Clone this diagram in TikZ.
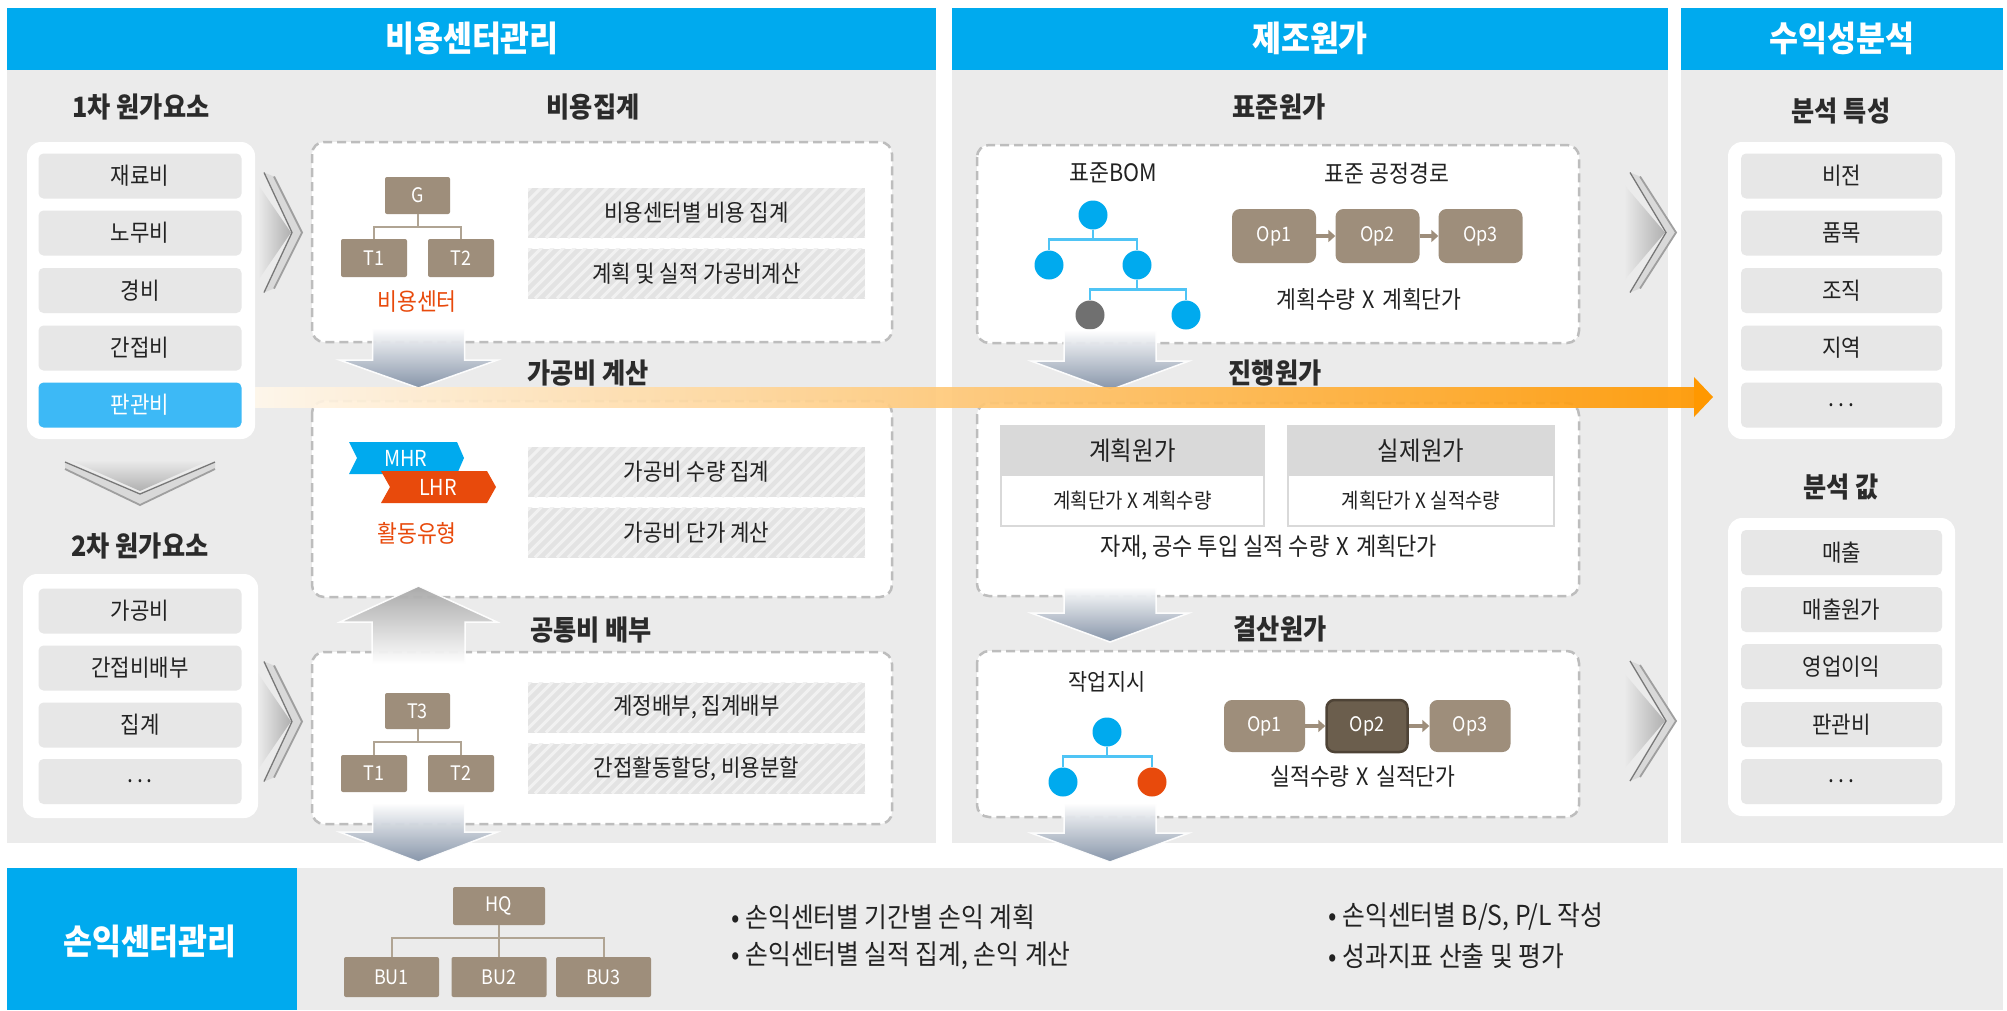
\documentclass[tikz,border=0pt]{standalone}
\usepackage{fontspec}
\setmainfont{Noto Sans CJK KR}[FakeStretch=0.9]
\usetikzlibrary{arrows.meta,calc}
\definecolor{hdrblue}{HTML}{00AAEE}
\definecolor{panelgray}{HTML}{EBEBEB}
\definecolor{itemgray}{HTML}{E7E7E7}
\definecolor{selblue}{HTML}{3DB9F6}
\definecolor{brownbox}{HTML}{9E8E7B}
\definecolor{darkop}{HTML}{6B5E4D}
\definecolor{darkopb}{HTML}{4E4336}
\definecolor{redorange}{HTML}{E84A0C}
\definecolor{dashgray}{HTML}{BDBDBD}
\definecolor{txt}{HTML}{222222}
\definecolor{headc}{HTML}{2B2B2B}
\definecolor{hatchbase}{HTML}{E3E3E3}
\definecolor{hatchline}{HTML}{F1F1F1}
\definecolor{slate}{HTML}{8190A5}
\definecolor{orangeA}{HTML}{FF9800}
\definecolor{bomline}{HTML}{4FC4F5}
\definecolor{gvline}{HTML}{B0A493}
\definecolor{subgray}{HTML}{D9D9D9}
\definecolor{bomgray}{HTML}{707070}
\newcommand\myfs[1]{\fontsize{#1}{#1}\selectfont}
\newcommand\xx{\hspace{7pt}X\hspace{7pt}}
\newcommand\mydots{.\hspace{4pt}.\hspace{4pt}.}
\newcommand\rchev[3]{%
 \shade[left color=panelgray, right color=gray!62] (#1-6,#2-48) -- (#1+#3-11,#2) -- (#1-6,#2+48) -- cycle;
 \fill[gray!30] (#1,#2-60) -- (#1+#3-10,#2) -- (#1,#2+60) -- (#1+10,#2+56) -- (#1+#3,#2) -- (#1+10,#2-56) -- cycle;
 \draw[gray!50!black, line width=1.3pt, opacity=.65] (#1,#2-60) -- (#1+#3-10,#2) -- (#1,#2+60);
 \draw[gray!75, line width=1.8pt] (#1+10,#2-56) -- (#1+#3,#2) -- (#1+10,#2+56);}
\newcommand\gdarrow[4]{%
 \shadedraw[top color=white, bottom color=slate, draw=white, line width=1.5pt, opacity=.95] (#1-46,#2) -- (#1+46,#2) -- (#1+46,#3) -- (#1+79,#3) -- (#1,#4) -- (#1-79,#3) -- (#1-46,#3) -- cycle;}
\begin{document}
\begin{tikzpicture}[x=1pt,y=-1pt,
  hdrtxt/.style={text=white,font=\myfs{35}\bfseries},
  heading/.style={text=headc,font=\myfs{28}\bfseries},
  item/.style={fill=itemgray,rounded corners=5pt,minimum width=203pt,minimum height=45pt,inner sep=0pt,text=txt,font=\myfs{23.5}},
  wbox/.style={fill=white,rounded corners=14pt},
  dbox/.style={draw=dashgray,fill=white,line width=2.5pt,dash pattern=on 9pt off 5pt,rounded corners=12pt},
  brn/.style={fill=brownbox,rounded corners=2pt,text=white,font=\myfs{20},inner sep=0pt},
  orgln/.style={draw=gvline,line width=2pt},
  bomln/.style={draw=bomline,line width=2.5pt},
  bc/.style={circle,fill=hdrblue,minimum size=29pt,inner sep=0pt},
  opb/.style={fill=brownbox,rounded corners=8pt,text=white,font=\myfs{20},inner sep=0pt},
  oparr/.style={draw=brownbox,line width=3.5pt,-{Triangle[length=7pt,width=12pt]}},
  hatch/.style={fill=hatchbase,minimum width=337pt,minimum height=50pt,inner sep=0pt,text=txt,font=\myfs{23.5},
     path picture={\foreach \k in {-70,-59,...,350}{\draw[hatchline,line width=3pt] ([xshift=\k pt]path picture bounding box.south west) -- ++(70pt,70pt);}}},
  body/.style={text=txt,font=\myfs{24}},
  small/.style={text=txt,font=\myfs{24}},
  accent/.style={text=redorange,font=\myfs{24}},
  bullet/.style={text=txt,font=\myfs{27.5},anchor=west},
]
\useasboundingbox (0,0) rectangle (2007,1010);
\fill[white] (0,0) rectangle (2007,1010);

% ---------- panels and headers
\fill[panelgray] (7,70) rectangle (936,843);
\fill[hdrblue] (7,8) rectangle (936,70);
\fill[panelgray] (952,70) rectangle (1668,843);
\fill[hdrblue] (952,8) rectangle (1668,70);
\fill[panelgray] (1681,70) rectangle (2003,843);
\fill[hdrblue] (1681,8) rectangle (2003,70);
\node[hdrtxt] (h1) at (472,38) {비용센터관리};
\node[hdrtxt] (h2) at (1310,38) {제조원가};
\node[hdrtxt] (h3) at (1842,38) {수익성분석};

% ---------- panel A left column
\node[heading] (t1st) at (141,107) {1차 원가요소};
\fill[wbox] (27,142) rectangle (255,439);
\node[item] (a1) at (140,176) {재료비};
\node[item] (a2) at (140,233) {노무비};
\node[item] (a3) at (140,290.5) {경비};
\node[item] (a4) at (140,348) {간접비};
\node[item,fill=selblue,text=white] (a5) at (140,405) {판관비};

% down chevron
\shade[top color=panelgray, bottom color=gray!62] (70,460) -- (140,491) -- (210,460) -- cycle;
\fill[gray!30] (65,462) -- (140,494) -- (215,462) -- (215,469) -- (140,505) -- (65,469) -- cycle;
\draw[gray!50!black, line width=1.3pt, opacity=.65] (65,462) -- (140,494) -- (215,462);
\draw[gray!75, line width=1.8pt] (65,469) -- (140,505) -- (215,469);

\node[heading] (t2nd) at (140,546) {2차 원가요소};
\fill[wbox] (23,574) rectangle (258,818);
\node[item] (c1) at (140,611) {가공비};
\node[item] (c2) at (140,668) {간접비배부};
\node[item] (c3) at (140,725) {집계};
\node[item] (c4) at (140,781.5) {\mydots};

\rchev{264}{232.5}{38}
\rchev{264}{721.5}{38}

% ---------- panel A right column
\node[heading] (hA1) at (593,107) {비용집계};
\draw[dbox] (312,142) rectangle (892,342);
\node[brn,minimum width=65pt,minimum height=37pt] (g) at (417.5,195.5) {G};
\node[brn,minimum width=66pt,minimum height=38pt] (gt1) at (374,258) {T1};
\node[brn,minimum width=66pt,minimum height=38pt] (gt2) at (461,258) {T2};
\draw[orgln] (g.south) -- ++(0,13) -| (gt1.north);
\draw[orgln] (g.south) -- ++(0,13) -| (gt2.north);
\node[accent] (cc) at (417,302) {비용센터};
\node[hatch] (hx1) at (696.5,213) {비용센터별 비용 집계};
\node[hatch] (hx2) at (696.5,273.5) {계획 및 실적 가공비계산};

\node[heading] (hA2) at (588,373) {가공비 계산};
\draw[dbox] (312,401) rectangle (892,597);
\fill[hdrblue] (349,442) -- (457,442) -- (464,458) -- (457,474) -- (349,474) -- (357,458) -- cycle;
\node[text=white,font=\myfs{22}] (mhr) at (406,458) {MHR};
\fill[redorange] (381,471) -- (487,471) -- (496,487) -- (487,503) -- (381,503) -- (390,487) -- cycle;
\node[text=white,font=\myfs{22}] (lhr) at (438,487) {LHR};
\node[accent] (act) at (417,533) {활동유형};
\node[hatch] (hx3) at (696.5,472) {가공비 수량 집계};
\node[hatch] (hx4) at (696.5,532.5) {가공비 단가 계산};

\node[heading] (hA3) at (591,630) {공통비 배부};
\draw[dbox] (312,652) rectangle (892,824);
\node[brn,minimum width=65pt,minimum height=36pt] (t3) at (417.5,711) {T3};
\node[brn,minimum width=66pt,minimum height=37pt] (u1) at (374,773.5) {T1};
\node[brn,minimum width=66pt,minimum height=37pt] (u2) at (461,773.5) {T2};
\draw[orgln] (t3.south) -- ++(0,13) -| (u1.north);
\draw[orgln] (t3.south) -- ++(0,13) -| (u2.north);
\node[hatch] (hx5) at (696.5,707.5) {계정배부, 집계배부};
\node[hatch] (hx6) at (696.5,768.5) {간접활동할당, 비용분할};

\gdarrow{418.5}{328}{360}{388}
\shadedraw[top color=gray!70, bottom color=white, draw=white, line width=1.5pt, opacity=.95] (418.5,586) -- (497,622) -- (465,622) -- (465,664) -- (372,664) -- (372,622) -- (340,622) -- cycle;
\gdarrow{418.5}{803}{832}{862}

% ---------- panel B
\node[heading] (hB1) at (1279,107) {표준원가};
\draw[dbox] (977,145) rectangle (1579,343);
\node[small] (bomt) at (1113,173) {표준BOM};
\node[small] (rtt) at (1387,173) {표준 공정경로};
\node[bc] (r0) at (1093,215) {};
\node[bc] (r1) at (1049,265) {};
\node[bc] (r2) at (1137,265) {};
\node[bc,fill=bomgray] (r3) at (1090,315) {};
\node[bc] (r4) at (1186,315) {};
\draw[bomln] (r0.south) -- ++(0,10) -| (r1.north);
\draw[bomln] (r0.south) -- ++(0,10) -| (r2.north);
\draw[bomln] (r2.south) -- ++(0,10) -| (r3.north);
\draw[bomln] (r2.south) -- ++(0,10) -| (r4.north);
\node[opb,minimum width=84pt,minimum height=54pt] (p1) at (1274,236) {Op1};
\node[opb,minimum width=84pt,minimum height=54pt] (p2) at (1377.5,236) {Op2};
\node[opb,minimum width=84pt,minimum height=54pt] (p3) at (1480.5,236) {Op3};
\draw[oparr] (p1) -- (p2);
\draw[oparr] (p2) -- (p3);
\node[body] (f1) at (1369,299) {계획수량\xx 계획단가};

\node[heading] (hB2) at (1275,373) {진행원가};
\draw[dbox] (977,403) rectangle (1579,596);
\node[draw=subgray,line width=2pt,fill=white,minimum width=263pt,minimum height=100pt,inner sep=0pt] (pc) at (1132.5,475.5) {};
\node[fill=subgray,minimum width=263pt,minimum height=51pt,inner sep=0pt,text=txt,font=\myfs{26}] (pch) at (1132.5,450.5) {계획원가};
\node[text=txt,font=\myfs{21}] (pcb) at (1132.5,501) {계획단가 X 계획수량};
\node[draw=subgray,line width=2pt,fill=white,minimum width=266pt,minimum height=100pt,inner sep=0pt] (ac) at (1421,475.5) {};
\node[fill=subgray,minimum width=266pt,minimum height=51pt,inner sep=0pt,text=txt,font=\myfs{26}] (ach) at (1421,450.5) {실제원가};
\node[text=txt,font=\myfs{21}] (acb) at (1421,501) {계획단가 X 실적수량};
\node[body,font=\myfs{24.5}] (f2) at (1269,548) {자재, 공수 투입 실적 수량\xx 계획단가};

\node[heading] (hB3) at (1280,629) {결산원가};
\draw[dbox] (977,651) rectangle (1579,817);
\node[small,font=\myfs{23}] (wo) at (1107,682) {작업지시};
\node[bc] (s0) at (1107,732) {};
\node[bc] (s1) at (1063,782) {};
\node[bc,fill=redorange] (s2) at (1152,782) {};
\draw[bomln] (s0.south) -- ++(0,10) -| (s1.north);
\draw[bomln] (s0.south) -- ++(0,10) -| (s2.north);
\node[opb,minimum width=81pt,minimum height=52pt] (q1) at (1264.5,726) {Op1};
\node[opb,fill=darkop,draw=darkopb,line width=2.5pt,minimum width=81pt,minimum height=52pt] (q2) at (1367,726) {Op2};
\node[opb,minimum width=81pt,minimum height=52pt] (q3) at (1470,726) {Op3};
\draw[oparr] (q1) -- (q2);
\draw[oparr] (q2) -- (q3);
\node[body] (f3) at (1363,776) {실적수량\xx 실적단가};

\gdarrow{1110}{330}{361}{390}
\gdarrow{1110}{587}{613}{642}
\gdarrow{1110}{803}{833}{862}

\rchev{1630}{232.5}{46}
\rchev{1630}{721}{46}

% ---------- panel C
\node[heading] (hC1) at (1841,111) {분석 특성};
\fill[wbox] (1728,142) rectangle (1955,439);
\node[item,minimum width=201pt] (d1) at (1841.5,176) {비전};
\node[item,minimum width=201pt] (d2) at (1841.5,233) {품목};
\node[item,minimum width=201pt] (d3) at (1841.5,290.5) {조직};
\node[item,minimum width=201pt] (d4) at (1841.5,348) {지역};
\node[item,minimum width=201pt] (d5) at (1841.5,405) {\mydots};

\node[heading] (hC2) at (1841,487) {분석 값};
\fill[wbox] (1728,518) rectangle (1955,816);
\node[item,minimum width=201pt] (e1) at (1841.5,552.5) {매출};
\node[item,minimum width=201pt] (e2) at (1841.5,609.5) {매출원가};
\node[item,minimum width=201pt] (e3) at (1841.5,666.5) {영업이익};
\node[item,minimum width=201pt] (e4) at (1841.5,724.5) {판관비};
\node[item,minimum width=201pt] (e5) at (1841.5,781.5) {\mydots};

% ---------- orange arrow
\shade[left color=orangeA!8, right color=orangeA, opacity=.92] (255,387) rectangle (1695,407);
\fill[orangeA] (1694,377) -- (1713,397) -- (1694,417) -- cycle;

% ---------- bottom band
\fill[hdrblue] (7,868) rectangle (297,1010);
\fill[panelgray] (297,868) rectangle (2003,1010);
\node[hdrtxt] (pl) at (150,941) {손익센터관리};
\node[brn,minimum width=92pt,minimum height=38pt] (hq) at (499,906) {HQ};
\node[brn,minimum width=95pt,minimum height=40pt] (bu1) at (391.5,977) {BU1};
\node[brn,minimum width=95pt,minimum height=40pt] (bu2) at (499,977) {BU2};
\node[brn,minimum width=95pt,minimum height=40pt] (bu3) at (603.5,977) {BU3};
\draw[orgln] (hq.south) -- ++(0,13) -| (bu1.north);
\draw[orgln] (hq.south) -- (bu2.north);
\draw[orgln] (hq.south) -- ++(0,13) -| (bu3.north);
\node[bullet] (l1) at (728,917) {• 손익센터별 기간별 손익 계획};
\node[bullet] (l2) at (728,956) {• 손익센터별 실적 집계, 손익 계산};
\node[bullet] (l3) at (1325,917) {• 손익센터별 B/S, P/L 작성};
\node[bullet] (l4) at (1325,956) {• 성과지표 산출 및 평가};
\end{tikzpicture}
\end{document}
